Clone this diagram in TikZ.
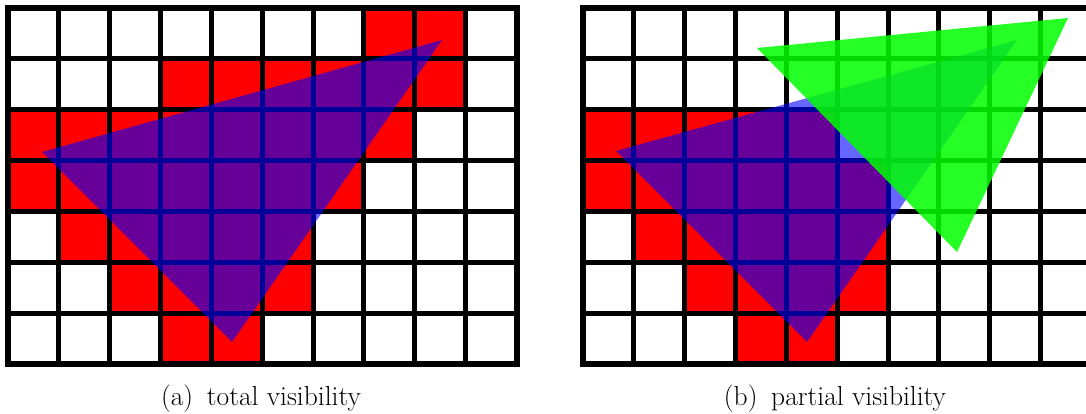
\documentclass[tikz,border=0pt]{standalone}
\tikzset{
  gridline/.style={line width=5pt, black},
  frameline/.style={line width=6pt, black},
  cellfill/.style={fill=red},
  occblue/.style={fill=blue, fill opacity=0.6},
  occgreen/.style={fill={rgb,255:red,0;green,255;blue,0}, fill opacity=0.85},
  captext/.style={font=\fontsize{27.5}{32}\selectfont, anchor=base, inner sep=0pt}
}
\newcommand{\cellsz}{50.85}
\begin{document}
\begin{tikzpicture}[x=1pt,y=-1pt]
\useasboundingbox (0,0) rectangle (1086,414);
\fill[white] (0,0) rectangle (1086,414);
% ---------- left grid ----------
\begin{scope}[shift={(8,8)}]
  \foreach \r/\cols in {0/{7,8},1/{3,4,5,6,7,8},2/{0,1,2,3,4,5,6,7},3/{0,1,2,3,4,5,6},4/{1,2,3,4,5},5/{2,3,4,5},6/{3,4}}
    \foreach \c in \cols
      \fill[cellfill] (\c*\cellsz,\r*\cellsz) rectangle ++(\cellsz,\cellsz);
  \foreach \i in {1,...,9}
    \draw[gridline] (\i*\cellsz,0) -- (\i*\cellsz,7*\cellsz);
  \foreach \j in {1,...,6}
    \draw[gridline] (0,\j*\cellsz) -- (10*\cellsz,\j*\cellsz);
  \draw[frameline] (0,0) rectangle (10*\cellsz,7*\cellsz);
  \fill[occblue] (34,144) -- (434,32) -- (224,334) -- cycle;
\end{scope}
% ---------- right grid ----------
\begin{scope}[shift={(583,8)}]
  \foreach \r/\cols in {2/{0,1,2,3,4},3/{0,1,2,3,4,5},4/{1,2,3,4,5},5/{2,3,4,5},6/{3,4}}
    \foreach \c in \cols
      \fill[cellfill] (\c*\cellsz,\r*\cellsz) rectangle ++(\cellsz,\cellsz);
  \foreach \i in {1,...,9}
    \draw[gridline] (\i*\cellsz,0) -- (\i*\cellsz,7*\cellsz);
  \foreach \j in {1,...,6}
    \draw[gridline] (0,\j*\cellsz) -- (10*\cellsz,\j*\cellsz);
  \draw[frameline] (0,0) rectangle (10*\cellsz,7*\cellsz);
  \fill[occblue] (33,143) -- (434,32) -- (224,334) -- cycle;
\end{scope}
\fill[occgreen] (757,48) -- (1068,18) -- (957,252) -- cycle;
% ---------- captions ----------
\node[captext] (capa) at (261,405) {(a)\enspace total visibility};
\node[captext] (capb) at (835,405) {(b)\enspace partial visibility};
\end{tikzpicture}
\end{document}
